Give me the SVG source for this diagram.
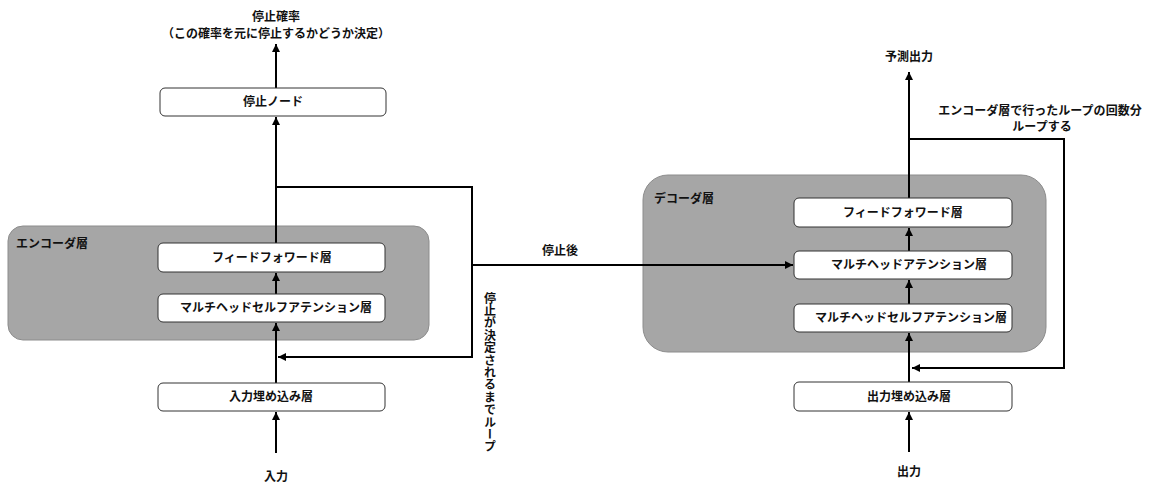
<svg xmlns="http://www.w3.org/2000/svg" width="1165" height="482" viewBox="0 0 1165 482">
<defs>
<marker id="arr" viewBox="0 0 10 10" refX="10" refY="5" markerWidth="8" markerHeight="8" markerUnits="userSpaceOnUse" orient="auto">
<path d="M0,0 L10,5 L0,10 z" fill="#000"/>
</marker>
</defs>
<style>
text{font-family:"Noto Sans CJK JP","Noto Sans",sans-serif;font-weight:bold;font-size:12px;fill:#111;}
.c{text-anchor:middle;}
.box{fill:#fff;stroke:#333;stroke-width:1;}
.grp{fill:#a6a6a6;stroke:#8c8c8c;stroke-width:1;}
.ln{fill:none;stroke:#000;stroke-width:2;}
.ar{marker-end:url(#arr);}
</style>
<rect width="1165" height="482" fill="#fff"/>
<g id="encoder-group">
<rect class="grp" x="8" y="226" width="421" height="114" rx="15"/>
<text x="16" y="248">エンコーダ層</text>
</g>
<g id="decoder-group">
<rect class="grp" x="643" y="175" width="403" height="177" rx="25"/>
<text x="654" y="203">デコーダ層</text>
</g>
<g id="connectors">
<path class="ln ar" d="M276,453 L276,412"/>
<path class="ln ar" d="M276,383 L276,323"/>
<path class="ln ar" d="M276,294 L276,273"/>
<path class="ln ar" d="M276,243 L276,117"/>
<path class="ln ar" d="M276,88 L276,44"/>
<path class="ln ar" d="M276,187 L472,187 L472,357 L278,357"/>
<path class="ln ar" d="M472,265 L793,265"/>
<path class="ln ar" d="M909,452 L909,412"/>
<path class="ln ar" d="M909,382 L909,333"/>
<path class="ln ar" d="M909,304 L909,280"/>
<path class="ln ar" d="M909,251 L909,228"/>
<path class="ln ar" d="M909,198 L909,72"/>
<path class="ln ar" d="M909,139 L1064,139 L1064,368 L912,368"/>
</g>
<g id="stop-node">
<rect class="box" x="160" y="88" width="226" height="28" rx="5"/>
<text class="c" x="273" y="106">停止ノード</text>
</g>
<g id="enc-ffw">
<rect class="box" x="158" y="243" width="227" height="29" rx="5"/>
<text class="c" x="272" y="262">フィードフォワード層</text>
</g>
<g id="enc-mhsa">
<rect class="box" x="158" y="294" width="227" height="28" rx="5"/>
<text class="c" x="276" y="312">マルチヘッドセルフアテンション層</text>
</g>
<g id="enc-embed">
<rect class="box" x="158" y="383" width="227" height="28" rx="5"/>
<text class="c" x="271" y="401">入力埋め込み層</text>
</g>
<g id="dec-ffw">
<rect class="box" x="794" y="198" width="218" height="29" rx="5"/>
<text class="c" x="903" y="217">フィードフォワード層</text>
</g>
<g id="dec-mha">
<rect class="box" x="794" y="251" width="218" height="28" rx="5"/>
<text class="c" x="909" y="269">マルチヘッドアテンション層</text>
</g>
<g id="dec-mhsa">
<rect class="box" x="794" y="304" width="218" height="28" rx="5"/>
<text class="c" x="911" y="322">マルチヘッドセルフアテンション層</text>
</g>
<g id="dec-embed">
<rect class="box" x="794" y="382" width="218" height="29" rx="5"/>
<text class="c" x="909" y="401">出力埋め込み層</text>
</g>
<g id="labels">
<text class="c" x="276" y="21">停止確率</text>
<text class="c" x="276" y="38">（この確率を元に停止するかどうか決定）</text>
<text class="c" x="276" y="481">入力</text>
<text class="c" x="560" y="255">停止後</text>
<text x="490" y="292" style="writing-mode:vertical-rl;letter-spacing:0.4px;">停止が決定されるまでループ</text>
<text class="c" x="909" y="61">予測出力</text>
<text class="c" x="1040" y="115">エンコーダ層で行ったループの回数分</text>
<text class="c" x="1042" y="131">ループする</text>
<text class="c" x="909" y="476">出力</text>
</g>
</svg>
